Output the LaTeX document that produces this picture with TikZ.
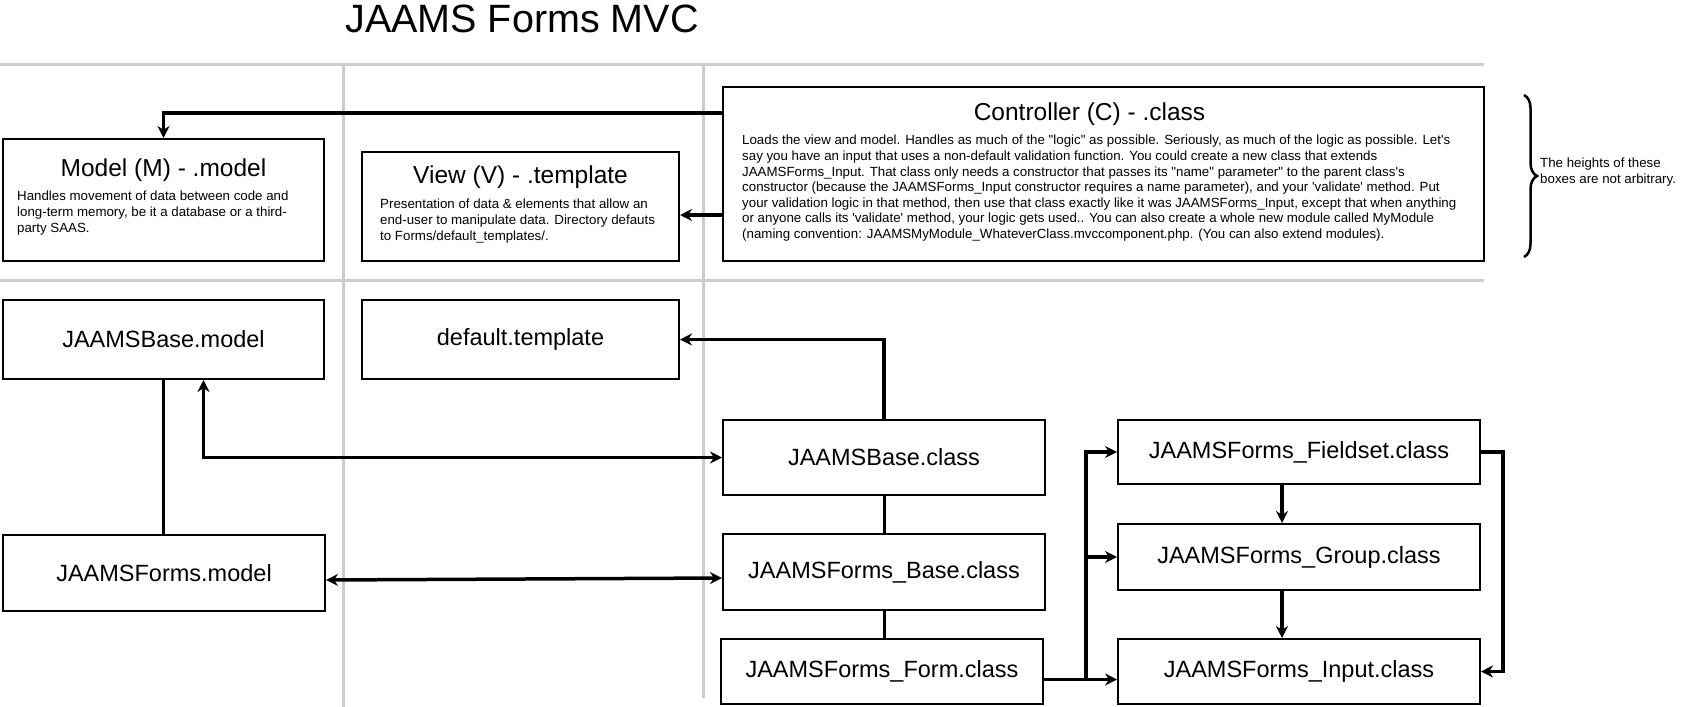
\documentclass[tikz,border=0pt]{standalone}
\usepackage{fontspec}
\setmainfont{Liberation Sans}[Ligatures=TeXOff]
\usetikzlibrary{arrows.meta,decorations.pathreplacing}

\begin{document}
\begin{tikzpicture}[x=1pt, y=-1pt,
    panel/.style={draw=black, line width=2pt, inner sep=0pt},
    heading/.style={font=\fontsize{24.5}{29}\selectfont, inner sep=0pt},
    blurb/.style={anchor=north west, align=left, inner sep=0pt, font=\fontsize{13.3}{15.6}\selectfont},
    unit/.style={draw=black, line width=2pt, inner sep=0pt, font=\fontsize{23.5}{27}\selectfont},
    rule/.style={draw=black!20, line width=3pt},
    link/.style={line width=3.5pt, -{Stealth[length=12pt,width=12pt]}},
    both/.style={line width=3.5pt, {Stealth[length=12pt,width=12pt]}-{Stealth[length=12pt,width=12pt]}},
    tie/.style={line width=3pt}]
    \useasboundingbox (0,0) rectangle (1698,707);
    % grid
    \draw[rule] (0,64) -- (1484,64);
    \draw[rule] (0,280) -- (1484,280);
    \draw[rule] (343,64) -- (343,707);
    \draw[rule] (703,64) -- (703,698);
    \node (title) at (522,19) {\fontsize{39.5}{46}\selectfont JAAMS Forms MVC};
    % MVC panels
    \node[panel, minimum width=321, minimum height=122] (model) at (163.5,200) {};
    \node[heading] (modelhead) at ([yshift=-32pt]model.north) {Model (M) - .model};
    \node[blurb] (modeltext) at ([shift={(15pt,-53pt)}]model.north west) {Handles movement of data between code and\\long-term memory, be it a database or a third-\\party SAAS.};
    \node[panel, minimum width=317, minimum height=109] (view) at (520.5,206.5) {};
    \node[heading] (viewhead) at ([yshift=-26.5pt]view.north) {View (V) - .template};
    \node[blurb] (viewtext) at ([shift={(19pt,-48pt)}]view.north west) {Presentation of data \& elements that allow an\\end-user to manipulate data. Directory defauts\\to Forms/default\_templates/.};
    \node[panel, minimum width=761, minimum height=174] (ctrl) at (1103.5,174) {};
    \node[heading] (ctrlhead) at ([shift={(-14pt,-28.6pt)}]ctrl.north) {Controller (C) - .class};
    \node[blurb] (ctrltext) at ([shift={(20pt,-49pt)}]ctrl.north west) {Loads the view and model.  Handles as much of the "logic" as possible.  Seriously, as much of the logic as possible. Let's\\
        say you have an input that uses a non-default validation function.  You could create a new class that extends\\
        JAAMSForms\_Input. That class only needs a constructor that passes its "name" parameter" to the parent class's\\
        constructor (because the JAAMSForms\_Input constructor requires a name parameter), and your 'validate' method.  Put\\
        your validation logic in that method, then use that class exactly like it was JAAMSForms\_Input, except that when anything\\
        or anyone calls its 'validate' method, your logic gets used..  You can also create a whole new module called MyModule\\
        (naming convention: JAAMSMyModule\_WhateverClass.mvccomponent.php.  (You can also extend modules).};
    \draw[line width=2.5pt, decorate, decoration={brace, amplitude=13pt}] (1524,95) -- (1524,257);
    \node[anchor=west, align=left, inner sep=0pt, font=\fontsize{13.3}{16}\selectfont] (note) at (1540,172) {The heights of these\\boxes are not arbitrary.};
    \draw[link] ([yshift=61pt]ctrl.west) -| (model.north);
    \draw[link] ([yshift=-41pt]ctrl.west) -- ([yshift=-8.5pt]view.east);
    % classes
    \node[unit, minimum width=321, minimum height=79] (basemodel) at (163.5,339.5) {JAAMSBase.model};
    \node[unit, minimum width=317, minimum height=79] (tpl) at (520.5,339.5) {default.template};
    \node[unit, minimum width=322, minimum height=75] (baseclass) at (884,457.5) {JAAMSBase.class};
    \node[unit, minimum width=322, minimum height=76] (formsmodel) at (164,573) {JAAMSForms.model};
    \node[unit, minimum width=322, minimum height=76] (formsbase) at (884,572) {JAAMSForms\_Base.class};
    \node[unit, minimum width=322, minimum height=65] (form) at (882,671.5) {JAAMSForms\_Form.class};
    \node[unit, minimum width=362, minimum height=64] (fieldset) at (1299,452) {JAAMSForms\_Fieldset.class};
    \node[unit, minimum width=362, minimum height=66] (group) at (1299,557) {JAAMSForms\_Group.class};
    \node[unit, minimum width=362, minimum height=65] (input) at (1299,671.5) {JAAMSForms\_Input.class};
    \coordinate (split) at (1086,680);
    \draw[link] (baseclass.north) |- (tpl.east);
    \draw[both] ([xshift=40pt]basemodel.south) |- (baseclass.west);
    \draw[tie] (basemodel.south) -- (basemodel.south |- formsmodel.north);
    \draw[both] ([yshift=-7pt]formsmodel.east) -- ([yshift=-6pt]formsbase.west);
    \draw[tie] (baseclass.south) -- (formsbase.north);
    \draw[tie] (formsbase.south) -- (formsbase.south |- form.north);
    \draw[link] ([yshift=-8pt]form.east) -- ([yshift=-8pt]input.west);
    \draw[link] (split) |- (fieldset.west);
    \draw[link] (split) |- (group.west);
    \draw[link] ([xshift=-17pt]fieldset.south) -- ([xshift=-17pt]group.north);
    \draw[link] ([xshift=-17pt]group.south) -- ([xshift=-17pt]input.north);
    \draw[link] (fieldset.east) -- ++(22,0) |- (input.east);
\end{tikzpicture}
\end{document}
